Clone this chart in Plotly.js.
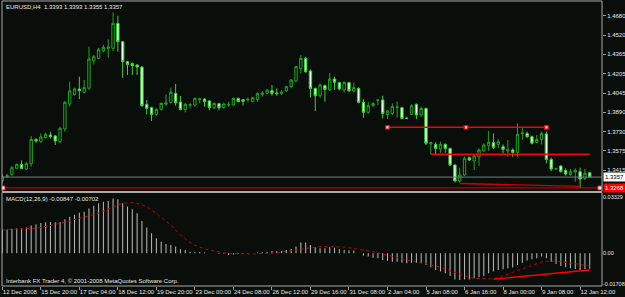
<!DOCTYPE html>
<html><head><meta charset="utf-8">
<script src="https://cdn.plot.ly/plotly-3.0.1.min.js"></script>
<style>html,body{margin:0;padding:0;background:#0a0e0a;}#chart{width:625px;height:297px;}</style>
</head><body><div id="chart"></div>
<script>
// ---------- data ----------
const symbolTitle = "EURUSD,H4  1.3393 1.3393 1.3355 1.3357";
const macdTitle = "MACD(12,26,9) -0.00847 -0.00702";
const footerText = "Interbank FX Trader 4, \u00a9 2001-2008 MetaQuotes Software Corp.";

const open = [1.3329,1.3362,1.3379,1.3429,1.3461,1.3423,1.3467,1.3666,1.3647,1.3680,
1.3702,1.3694,1.3647,1.3751,1.3956,1.4035,1.4079,1.4052,1.4085,1.4309,
1.4330,1.4391,1.4412,1.4412,1.4617,1.4467,1.4303,1.4287,1.4276,1.4259,
1.3953,1.3926,1.3871,1.3912,1.3956,1.3970,1.4043,1.3972,1.3910,1.3948,
1.3948,1.3992,1.3997,1.3981,1.3926,1.3959,1.3926,1.3948,1.3948,1.4002,
1.3992,1.3989,1.3975,1.3994,1.4035,1.4043,1.4065,1.4046,1.4043,1.4063,
1.4098,1.4145,1.4248,1.4330,1.4227,1.4084,1.4024,1.4106,1.4071,1.4161,
1.4131,1.4071,1.4131,1.4063,1.4084,1.3970,1.3888,1.3942,1.3987,1.3989,
1.3871,1.3879,1.3929,1.3926,1.3841,1.3871,1.3953,1.3866,1.3920,1.3628,
1.3625,1.3587,1.3625,1.3592,1.3456,1.3325,1.3374,1.3516,1.3489,1.3524,
1.3573,1.3614,1.3639,1.3625,1.3606,1.3571,1.3579,1.3560,1.3713,1.3715,
1.3688,1.3642,1.3666,1.3710,1.3502,1.3423,1.3448,1.3410,1.3379,1.3399,
1.3401,1.3347,1.3393];
const high = [1.3379,1.3383,1.3448,1.3470,1.3494,1.3478,1.3694,1.3674,1.3715,1.3721,
1.3729,1.3702,1.3770,1.3981,1.4139,1.4090,1.4180,1.4153,1.4426,1.4358,
1.4418,1.4440,1.4486,1.4708,1.4680,1.4473,1.4309,1.4298,1.4281,1.4268,
1.3989,1.3934,1.3920,1.3970,1.4035,1.4090,1.4120,1.4022,1.3964,1.3964,
1.4008,1.4008,1.4002,1.3989,1.3970,1.3967,1.3967,1.3975,1.4008,1.4008,
1.3997,1.4008,1.4016,1.4052,1.4063,1.4076,1.4112,1.4085,1.4071,1.4106,
1.4161,1.4270,1.4358,1.4344,1.4240,1.4090,1.4125,1.4117,1.4210,1.4180,
1.4139,1.4139,1.4139,1.4131,1.4093,1.3994,1.3970,1.3970,1.3994,1.4024,
1.3904,1.3961,1.3975,1.3934,1.3846,1.3953,1.3961,1.3934,1.3926,1.3647,
1.3642,1.3647,1.3634,1.3598,1.3461,1.3434,1.3524,1.3524,1.3543,1.3592,
1.3634,1.3735,1.3715,1.3669,1.3625,1.3661,1.3592,1.3797,1.3762,1.3729,
1.3696,1.3702,1.3729,1.3729,1.3516,1.3434,1.3456,1.3429,1.3423,1.3429,
1.3434,1.3423,1.3393];
const low = [1.3306,1.3350,1.3368,1.3423,1.3423,1.3415,1.3442,1.3639,1.3639,1.3674,
1.3674,1.3620,1.3634,1.3729,1.3934,1.4024,1.3997,1.4043,1.4071,1.4281,
1.4325,1.4380,1.4336,1.4390,1.4385,1.4172,1.4194,1.4194,1.4194,1.3934,
1.3871,1.3817,1.3858,1.3904,1.3942,1.3959,1.3942,1.3904,1.3888,1.3920,
1.3937,1.3961,1.3934,1.3904,1.3915,1.3904,1.3920,1.3934,1.3942,1.3970,
1.3942,1.3975,1.3970,1.3975,1.4016,1.4035,1.4024,1.4024,1.4030,1.4057,
1.4085,1.4134,1.4207,1.4213,1.4008,1.3899,1.4008,1.3975,1.4063,1.4071,
1.4068,1.4052,1.4052,1.4052,1.3961,1.3844,1.3877,1.3934,1.3948,1.3838,
1.3833,1.3866,1.3844,1.3830,1.3833,1.3866,1.3833,1.3852,1.3620,1.3543,
1.3538,1.3556,1.3556,1.3448,1.3314,1.3311,1.3368,1.3489,1.3415,1.3448,
1.3565,1.3573,1.3587,1.3592,1.3551,1.3524,1.3524,1.3524,1.3661,1.3680,
1.3625,1.3634,1.3625,1.3470,1.3407,1.3418,1.3396,1.3368,1.3368,1.3319,
1.3268,1.3333,1.3355];
const close = [1.3360,1.3368,1.3434,1.3461,1.3428,1.3470,1.3666,1.3653,1.3685,1.3707,
1.3688,1.3653,1.3757,1.3970,1.4063,1.4079,1.4065,1.4090,1.4325,1.4344,
1.4404,1.4421,1.4423,1.4617,1.4467,1.4303,1.4281,1.4270,1.4259,1.3942,
1.3920,1.3871,1.3912,1.3961,1.3964,1.4052,1.3967,1.3912,1.3953,1.3950,
1.4002,1.3997,1.3975,1.3926,1.3961,1.3926,1.3956,1.3953,1.4002,1.3975,
1.3978,1.3994,1.4008,1.4043,1.4046,1.4071,1.4043,1.4041,1.4052,1.4098,
1.4153,1.4262,1.4330,1.4221,1.4084,1.4024,1.4112,1.4076,1.4161,1.4134,
1.4079,1.4134,1.4065,1.4090,1.3970,1.3888,1.3942,1.3961,1.3989,1.3879,
1.3899,1.3934,1.3931,1.3838,1.3838,1.3942,1.3866,1.3920,1.3634,1.3639,
1.3592,1.3625,1.3592,1.3456,1.3325,1.3374,1.3511,1.3497,1.3530,1.3579,
1.3620,1.3642,1.3601,1.3647,1.3584,1.3581,1.3560,1.3707,1.3718,1.3688,
1.3634,1.3666,1.3715,1.3502,1.3423,1.3426,1.3401,1.3382,1.3401,1.3410,
1.3341,1.3388,1.3357];

const macdMain = [0.0132,0.0132,0.0136,0.0138,0.0138,0.0142,0.0153,0.0160,0.0167,0.0171,
0.0173,0.0171,0.0173,0.0188,0.0202,0.0213,0.0224,0.0230,0.0247,0.0263,
0.0276,0.0285,0.0289,0.0302,0.0298,0.0276,0.0258,0.0243,0.0221,0.0178,
0.0142,0.0110,0.0083,0.0064,0.0052,0.0046,0.0037,0.0022,0.0018,0.0009,
0.0007,0.0007,0.0004,0.0000,0.0000,-0.0004,-0.0002,-0.0009,-0.0006,-0.0004,
-0.0004,-0.0002,0.0000,0.0004,0.0006,0.0009,0.0013,0.0013,0.0013,0.0018,
0.0024,0.0037,0.0059,0.0059,0.0046,0.0033,0.0028,0.0028,0.0033,0.0031,
0.0022,0.0018,0.0015,0.0015,0.0000,-0.0013,-0.0018,-0.0024,-0.0028,-0.0037,
-0.0042,-0.0046,-0.0046,-0.0052,-0.0055,-0.0052,-0.0052,-0.0052,-0.0064,-0.0077,
-0.0092,-0.0101,-0.0110,-0.0125,-0.0144,-0.0147,-0.0144,-0.0144,-0.0138,-0.0132,
-0.0125,-0.0110,-0.0101,-0.0092,-0.0088,-0.0083,-0.0079,-0.0064,-0.0052,-0.0040,
-0.0033,-0.0028,-0.0018,-0.0028,-0.0046,-0.0059,-0.0070,-0.0077,-0.0083,-0.0086,
-0.0092,-0.0088,-0.00847];
const macdSignal = [0.0129,0.0130,0.0131,0.0132,0.0134,0.0135,0.0137,0.0139,0.0142,0.0147,
0.0153,0.0159,0.0166,0.0172,0.0179,0.0186,0.0193,0.0200,0.0207,0.0214,
0.0221,0.0233,0.0245,0.0256,0.0268,0.0276,0.0280,0.0280,0.0276,0.0269,
0.0256,0.0239,0.0220,0.0199,0.0178,0.0156,0.0129,0.0101,0.0080,0.0059,
0.0045,0.0033,0.0025,0.0018,0.0012,0.0007,0.0003,0.0000,-0.0002,-0.0003,
-0.0004,-0.0004,-0.0004,-0.0003,-0.0002,-0.0001,0.0000,0.0003,0.0007,0.0011,
0.0015,0.0019,0.0022,0.0028,0.0033,0.0035,0.0037,0.0037,0.0037,0.0037,
0.0037,0.0034,0.0031,0.0027,0.0022,0.0018,0.0013,0.0008,0.0002,-0.0005,
-0.0011,-0.0018,-0.0024,-0.0031,-0.0037,-0.0043,-0.0048,-0.0053,-0.0057,-0.0063,
-0.0070,-0.0078,-0.0086,-0.0096,-0.0105,-0.0115,-0.0125,-0.0132,-0.0138,-0.0140,
-0.0142,-0.0142,-0.0140,-0.0133,-0.0125,-0.0115,-0.0105,-0.0095,-0.0085,-0.0075,
-0.0066,-0.0057,-0.0048,-0.0044,-0.0042,-0.0043,-0.0046,-0.0049,-0.0052,-0.0056,
-0.0061,-0.0066,-0.00702];

const dateTickBars = [0,8,16,24,32,40,48,56,64,72,80,88,96,104,112,120];
const dateTickText = ["12 Dec 2008","15 Dec 20:00","17 Dec 04:00","18 Dec 12:00","19 Dec 20:00",
"23 Dec 00:00","24 Dec 08:00","26 Dec 12:00","29 Dec 16:00","31 Dec 08:00","2 Jan 04:00",
"5 Jan 08:00","6 Jan 16:00","8 Jan 00:00","9 Jan 08:00","12 Jan 12:00"];
const priceTicks = [1.4680,1.4520,1.4365,1.4205,1.4045,1.3890,1.3730,1.3575,1.3415];
const priceTickText = ["1.4680","1.4520","1.4365","1.4205","1.4045","1.3890","1.3730","1.3575","1.3415"];
const macdLabelVals = [0.03329, 0.00, -0.01708];
const macdLabelText = ["0.03329","0.00","-0.01708"];

// chart objects drawn on the chart (bar index / price)
const bidPrice = 1.3357;
const lowLevelPrice = 1.3268;
const lowLevelAnchors = [0.15, 124.1];
const upperLineBars = [80, 113];
const upperLinePrice = 1.3765;
const upperLineAnchors = [80, 96.3, 113];
const midLineBars = [89, 122];
const midLinePrice = 1.3544;
const lowTrendBars = [95, 120];
const lowTrendPrices = [1.3304, 1.3281];
const macdTrendBars = [102, 122];
const macdTrendVals = [-0.0143, -0.0092];

// ---------- geometry ----------
const W = 625, H = 297, ML = 2, MR = 23, MT = 1, MB = 11;
const plotH = H - MT - MB;
const pxToPaper = y => 1 - (y - MT) / plotH;
const mainBottom = pxToPaper(191.5);
const macdTop = pxToPaper(192.5);
const barPx = 4.815, bar0Px = 2.3;
const xr0 = (ML - bar0Px) / barPx;
const xr1 = xr0 + (W - ML - MR) / barPx;
const priceAt = y => 1.4680 - 0.0008198 * (y - 15.7);
const macdAt = y => (253.3 - y) * 0.000552;

const idx = open.map((_, i) => i);
const BG = '#0a0e0a';
const FONT = 'Liberation Sans, Arial, sans-serif';
const TXT = '#e8e8e8';

const traces = [
  {type:'scatter', mode:'lines', x:[xr0, xr1], y:[bidPrice, bidPrice], xaxis:'x', yaxis:'y',
   line:{color:'#6f7f88', width:1}, hoverinfo:'skip'},
  {type:'candlestick', x:idx, open:open, high:high, low:low, close:close, xaxis:'x', yaxis:'y',
   increasing:{line:{color:'#22a322', width:1}, fillcolor:BG},
   decreasing:{line:{color:'#3fd03f', width:1}, fillcolor:'#e8ffe8'},
   whiskerwidth:0, hoverinfo:'skip'},
  {type:'scatter', mode:'lines+markers', x:lowLevelAnchors, y:lowLevelAnchors.map(()=>lowLevelPrice),
   xaxis:'x', yaxis:'y', line:{color:'#e00000', width:1},
   marker:{symbol:'square', size:4, color:'#ffffff', line:{color:'#ff0000', width:1}}, hoverinfo:'skip'},
  {type:'scatter', mode:'lines', x:upperLineBars, y:upperLineBars.map(()=>upperLinePrice),
   xaxis:'x', yaxis:'y', line:{color:'#ff0000', width:1.4}, hoverinfo:'skip'},
  {type:'scatter', mode:'markers', x:upperLineAnchors, y:upperLineAnchors.map(()=>upperLinePrice),
   xaxis:'x', yaxis:'y', marker:{symbol:'square', size:3.5, color:'#ffdddd', line:{color:'#ff0000', width:1.2}}, hoverinfo:'skip'},
  {type:'scatter', mode:'lines', x:midLineBars, y:midLineBars.map(()=>midLinePrice),
   xaxis:'x', yaxis:'y', line:{color:'#ff0000', width:1.4}, hoverinfo:'skip'},
  {type:'scatter', mode:'lines', x:lowTrendBars, y:lowTrendPrices,
   xaxis:'x', yaxis:'y', line:{color:'#d00000', width:1.4}, hoverinfo:'skip'},
  {type:'bar', x:idx, y:macdMain, xaxis:'x2', yaxis:'y2', width:0.22,
   marker:{color:'#b4b4b4', line:{width:0}}, hoverinfo:'skip'},
  {type:'scatter', mode:'lines', x:idx, y:macdSignal, xaxis:'x2', yaxis:'y2',
   line:{color:'#c80000', width:1, dash:'dot'}, hoverinfo:'skip'},
  {type:'scatter', mode:'lines', x:macdTrendBars, y:macdTrendVals, xaxis:'x2', yaxis:'y2',
   line:{color:'#ff0000', width:1.4}, hoverinfo:'skip'}
];

const annotations = [
  {text:symbolTitle, xref:'paper', yref:'paper', x:0, y:1, xanchor:'left', yanchor:'top',
   xshift:2, yshift:-1, showarrow:false, font:{family:FONT, size:6, color:TXT}},
  {text:macdTitle, xref:'paper', yref:'paper', x:0, y:macdTop, xanchor:'left', yanchor:'top',
   xshift:2, yshift:-1, showarrow:false, font:{family:FONT, size:6, color:TXT}},
  {text:footerText, xref:'paper', yref:'paper', x:0, y:0, xanchor:'left', yanchor:'bottom',
   xshift:2, yshift:0, showarrow:false, font:{family:FONT, size:6, color:TXT}},
  {text:bidPrice.toFixed(4), xref:'paper', yref:'y', x:1, y:bidPrice, xanchor:'left', yanchor:'middle',
   xshift:1, showarrow:false, bgcolor:'#ffffff', borderpad:1, font:{family:FONT, size:6, color:'#000000'}},
  {text:lowLevelPrice.toFixed(4), xref:'paper', yref:'y', x:1, y:lowLevelPrice, xanchor:'left', yanchor:'middle',
   xshift:1, showarrow:false, bgcolor:'#ff0000', borderpad:1, font:{family:FONT, size:6, color:'#ffffff'}}
];
macdLabelVals.forEach((v, i) => {
  annotations.push({text:macdLabelText[i], xref:'paper', yref:'y2', x:1, y:v, xanchor:'left',
    yanchor: i === 0 ? 'top' : 'middle', xshift:0, borderpad:0, showarrow:false,
    font:{family:FONT, size:5.5, color:TXT}});
});

const layout = {
  width:W, height:H, margin:{l:ML, r:MR, t:MT, b:MB, pad:0},
  paper_bgcolor:BG, plot_bgcolor:BG, showlegend:false, boxgap:0.3,
  font:{family:FONT, size:6, color:TXT},
  xaxis:{domain:[0,1], anchor:'y', range:[xr0, xr1], showticklabels:false, showgrid:false,
         zeroline:false, ticks:'', showline:false, rangeslider:{visible:false}, fixedrange:true},
  yaxis:{domain:[mainBottom,1], anchor:'x', range:[priceAt(191.5), priceAt(1)], side:'right',
         tickvals:priceTicks, ticktext:priceTickText, ticks:'outside', ticklen:3, tickcolor:'#9a9a9a',
         showgrid:false, zeroline:false, showline:false, tickfont:{family:FONT, size:6, color:TXT}},
  xaxis2:{domain:[0,1], anchor:'y2', range:[xr0, xr1], tickvals:dateTickBars, ticktext:dateTickText,
          ticks:'outside', ticklen:3, tickcolor:'#9a9a9a', ticklabelposition:'outside right', tickangle:0,
          showgrid:false, zeroline:false, showline:false, tickfont:{family:FONT, size:6, color:TXT}},
  yaxis2:{domain:[0, macdTop], anchor:'x2', range:[macdAt(286), macdAt(192.5)], side:'right',
          showticklabels:false, ticks:'', showgrid:false, zeroline:false, showline:false},
  shapes:[
    {type:'rect', xref:'paper', yref:'paper', x0:0, x1:1, y0:mainBottom, y1:1, line:{color:'#a8a8a8', width:1}},
    {type:'rect', xref:'paper', yref:'paper', x0:0, x1:1, y0:0, y1:macdTop, line:{color:'#a8a8a8', width:1}}
  ],
  annotations:annotations
};

Plotly.newPlot('chart', traces, layout, {displayModeBar:false, staticPlot:true});
</script>
</body></html>
